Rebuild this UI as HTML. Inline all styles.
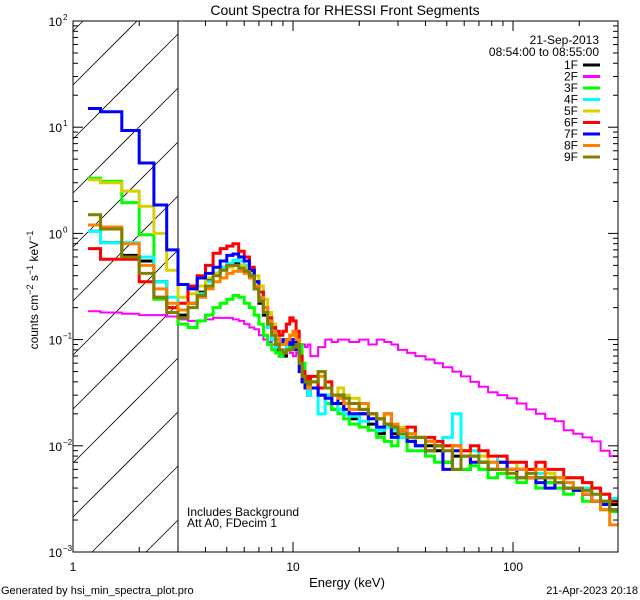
<!DOCTYPE html>
<html><head><meta charset="utf-8"><style>
html,body{margin:0;padding:0;background:#fff;width:640px;height:600px;overflow:hidden}
svg{display:block;font-family:"Liberation Sans",sans-serif}
</style></head><body>
<svg id="chart" width="640" height="600" viewBox="0 0 640 600">
<rect width="640" height="600" fill="#fff"/>
<text x="345" y="15" font-size="14" text-anchor="middle">Count Spectra for RHESSI Front Segments</text>
<defs><clipPath id="pclip"><rect x="73" y="21" width="545" height="531"/></clipPath></defs>
<g id="hatch"></g>
<line x1="178" y1="21" x2="178" y2="552" stroke="#000" stroke-width="1"/>
<g id="series" clip-path="url(#pclip)"></g>
<rect x="73" y="21" width="545" height="531" fill="none" stroke="#000" stroke-width="1"/>
<g id="axes"></g>
<text x="347" y="587" font-size="13" text-anchor="middle">Energy (keV)</text>
<text transform="translate(38,290) rotate(-90)" font-size="12" text-anchor="middle">counts cm<tspan dy="-5" font-size="9">−2</tspan><tspan dy="5"> s</tspan><tspan dy="-5" font-size="9">−1</tspan><tspan dy="5"> keV</tspan><tspan dy="-5" font-size="9">−1</tspan></text>
<text x="1" y="594" font-size="11">Generated by hsi_min_spectra_plot.pro</text>
<text x="638" y="594" font-size="11" text-anchor="end">21-Apr-2023 20:18</text>
<text x="187" y="516" font-size="12">Includes Background</text>
<text x="187" y="527" font-size="12">Att A0, FDecim 1</text>
<text x="599" y="44" font-size="12" text-anchor="end">21-Sep-2013</text>
<text x="599" y="56" font-size="12" text-anchor="end">08:54:00 to 08:55:00</text>
<g id="legend"></g>
</svg>
<script>
const edges=[1.17,1.333,1.667,2,2.333,2.667,3,3.333,3.667,4,4.333,4.667,5,5.333,5.667,6,6.333,6.667,7,7.333,7.667,8,8.333,8.667,9,9.333,9.667,10,10.333,10.667,11,11.333,11.667,12,13,14,15,16,17,18,20,22,24,26,28,30,33,36,40,44,48,53,58,64,70,77,85,94,104,115,127,140,155,170,188,207,228,250,275,300];
const seriesNames=["1F","2F","3F","4F","5F","6F","7F","8F","9F"];
const seriesColors=["#000000","#ff00ff","#00ff00","#00ffff","#d8d000","#ff0000","#0000ff","#ff8000","#808000"];
const v1F=[1.05,0.82,0.62,0.55,0.35,0.2,0.17,0.22,0.28,0.36,0.42,0.48,0.5,0.52,0.5,0.46,0.4,0.3,0.22,0.17,0.13,0.1,0.08,0.07,0.07,0.08,0.09,0.1,0.09,0.06,0.04,0.035,0.03,
0.04,0.03,0.03,0.022,0.025,0.02,0.018,0.02,0.016,0.013,0.016,0.013,0.012,0.011,0.01,0.01,0.009,0.007,0.008,0.006,0.008,0.007,0.006,0.007,0.006,0.006,0.005,0.005,0.0045,0.005,0.004,0.004,0.0035,0.003,0.003,0.0028];
const v2F=[0.185,0.18,0.175,0.17,0.17,0.165,0.155,0.15,0.15,0.155,0.16,0.16,0.16,0.155,0.15,0.14,0.13,0.125,0.11,0.1,0.095,0.09,0.085,0.08,0.075,0.08,0.075,0.07,0.075,0.08,0.09,0.085,0.09,
0.07,0.085,0.1,0.095,0.1,0.1,0.095,0.1,0.09,0.1,0.095,0.09,0.08,0.075,0.07,0.065,0.06,0.055,0.05,0.045,0.04,0.036,0.032,0.03,0.028,0.025,0.022,0.02,0.018,0.017,0.014,0.013,0.012,0.011,0.009,0.008];
const v3F=[3.3,3.1,1.95,0.97,0.24,0.2,0.14,0.13,0.15,0.17,0.2,0.22,0.24,0.26,0.25,0.22,0.2,0.17,0.14,0.11,0.09,0.08,0.075,0.07,0.075,0.08,0.09,0.09,0.1,0.09,0.06,0.045,0.04,
0.035,0.03,0.025,0.022,0.02,0.018,0.016,0.015,0.014,0.012,0.011,0.01,0.012,0.009,0.009,0.008,0.007,0.007,0.006,0.006,0.0065,0.006,0.005,0.0055,0.005,0.0045,0.005,0.004,0.0045,0.004,0.0035,0.0038,0.003,0.003,0.0025,0.0024];
const v4F=[1.05,0.82,0.82,0.6,0.35,0.25,0.16,0.2,0.27,0.35,0.42,0.48,0.52,0.56,0.55,0.5,0.42,0.32,0.24,0.18,0.13,0.1,0.085,0.08,0.08,0.09,0.09,0.1,0.09,0.06,0.04,0.035,0.03,
0.04,0.02,0.03,0.025,0.022,0.02,0.019,0.017,0.018,0.014,0.015,0.014,0.012,0.013,0.01,0.011,0.01,0.012,0.02,0.008,0.009,0.007,0.007,0.008,0.006,0.007,0.006,0.0055,0.005,0.005,0.0045,0.004,0.004,0.0035,0.003,0.0032];
const v5F=[3.2,3.0,2.5,1.8,1.0,0.45,0.25,0.27,0.32,0.38,0.42,0.45,0.48,0.5,0.5,0.47,0.44,0.4,0.32,0.24,0.18,0.14,0.11,0.09,0.09,0.1,0.11,0.12,0.1,0.07,0.05,0.045,0.04,
0.045,0.05,0.035,0.03,0.035,0.03,0.028,0.025,0.02,0.018,0.016,0.015,0.015,0.013,0.012,0.011,0.01,0.01,0.009,0.009,0.008,0.008,0.007,0.007,0.007,0.006,0.006,0.006,0.0055,0.005,0.005,0.005,0.0045,0.004,0.0035,0.003];
const v6F=[0.72,0.57,0.57,0.35,0.25,0.2,0.22,0.32,0.4,0.5,0.65,0.72,0.76,0.8,0.68,0.6,0.48,0.35,0.28,0.2,0.16,0.13,0.12,0.11,0.12,0.14,0.16,0.15,0.12,0.07,0.05,0.045,0.04,
0.045,0.035,0.04,0.03,0.03,0.025,0.025,0.022,0.02,0.018,0.02,0.015,0.014,0.015,0.012,0.012,0.011,0.01,0.01,0.009,0.01,0.009,0.008,0.008,0.007,0.007,0.006,0.007,0.006,0.006,0.005,0.005,0.0045,0.004,0.0035,0.003];
const v7F=[15,14,9.3,4.6,1.85,0.7,0.33,0.3,0.38,0.42,0.48,0.55,0.62,0.64,0.6,0.55,0.45,0.35,0.25,0.2,0.15,0.12,0.1,0.09,0.1,0.1,0.09,0.1,0.08,0.05,0.04,0.035,0.035,
0.035,0.03,0.028,0.025,0.03,0.022,0.02,0.02,0.018,0.015,0.016,0.012,0.014,0.011,0.01,0.009,0.01,0.006,0.009,0.008,0.007,0.007,0.006,0.007,0.006,0.005,0.005,0.0045,0.004,0.0045,0.004,0.0038,0.0035,0.003,0.0028,0.0025];
const v8F=[1.2,1.15,0.8,0.5,0.3,0.22,0.19,0.22,0.25,0.3,0.35,0.38,0.42,0.44,0.44,0.42,0.38,0.32,0.25,0.2,0.15,0.12,0.1,0.09,0.09,0.1,0.11,0.12,0.1,0.06,0.045,0.04,0.035,
0.04,0.045,0.035,0.03,0.028,0.025,0.022,0.025,0.02,0.018,0.02,0.016,0.014,0.013,0.012,0.011,0.01,0.009,0.01,0.008,0.008,0.007,0.007,0.006,0.006,0.006,0.005,0.006,0.005,0.005,0.0045,0.004,0.0035,0.003,0.0025,0.0018];
const v9F=[1.5,1.1,0.6,0.42,0.25,0.18,0.16,0.2,0.26,0.32,0.4,0.45,0.5,0.5,0.47,0.44,0.4,0.3,0.23,0.18,0.14,0.11,0.09,0.08,0.075,0.08,0.08,0.085,0.09,0.06,0.045,0.04,0.038,
0.04,0.05,0.035,0.03,0.03,0.028,0.025,0.022,0.02,0.018,0.016,0.015,0.013,0.012,0.012,0.009,0.01,0.009,0.006,0.008,0.008,0.007,0.006,0.006,0.0055,0.005,0.0055,0.005,0.005,0.0045,0.004,0.004,0.0038,0.0035,0.003,0.0025];
const xTickLabels=["1","10","100"];
const yExps=["2","1","0","−1","−2","−3"];

const NS="http://www.w3.org/2000/svg";
const X0=73,X1=618,Y0=21,Y1=552;
const xLogMin=0,xLogMax=Math.log10(300),yLogMin=-3,yLogMax=2;
function xs(e){return X0+(Math.log10(e)-xLogMin)/(xLogMax-xLogMin)*(X1-X0);}
function ys(v){return Y1-(Math.log10(v)-yLogMin)/(yLogMax-yLogMin)*(Y1-Y0);}
function mk(tag,attrs,parent){const el=document.createElementNS(NS,tag);for(const k in attrs)el.setAttribute(k,attrs[k]);parent.appendChild(el);return el;}

// hatch lines computed to stay inside the 1-3 keV box (45 deg, x+y = k)
const hatch=document.getElementById('hatch');
const HX1=178;
for(let k=X0+Y0+10;k<HX1+Y1;k+=54){
  // line points satisfy x + y = k
  let xa=Math.max(X0,k-Y1), ya=k-xa;
  let xb=Math.min(HX1,k-Y0), yb=k-xb;
  if(xb<=xa)continue;
  const ln=mk('line',{x1:xa,y1:ya,x2:xb,y2:yb,stroke:'#000','stroke-width':0.8},hatch);
  
  
}

const allVals=[v1F,v2F,v3F,v4F,v5F,v6F,v7F,v8F,v9F];
const sg=document.getElementById('series');
allVals.forEach((vals,si)=>{
  let d='';
  for(let i=0;i<vals.length;i++){
    const xa=xs(edges[i]),xb=Math.min(X1,xs(edges[i+1])),y=ys(vals[i]);
    d+=(i===0?'M':'L')+xa.toFixed(1)+','+y.toFixed(1)+'L'+xb.toFixed(1)+','+y.toFixed(1);
  }
  const p=mk('path',{d:d,fill:'none',stroke:seriesColors[si],'stroke-width':si===1?2:3,'stroke-linejoin':'miter'},sg);
  
  
});

const ax=document.getElementById('axes');
for(let dec=0;dec<3;dec++){
  for(let m=1;m<10;m++){
    const e=Math.pow(10,dec)*m; if(e>300)break;
    const x=xs(e),L=m===1?10:5;
    mk('line',{x1:x,y1:Y1,x2:x,y2:Y1-L,stroke:'#000'},ax);
    mk('line',{x1:x,y1:Y0,x2:x,y2:Y0+L,stroke:'#000'},ax);
  }
  const t=mk('text',{x:xs(Math.pow(10,dec)),y:571,'font-size':12,'text-anchor':'middle'},ax);
  t.textContent=xTickLabels[dec];
  
  
}
for(let dec=-3;dec<=2;dec++){
  for(let m=1;m<10;m++){
    if(dec===2&&m>1)break;
    const v=Math.pow(10,dec)*m,y=ys(v),L=m===1?10:5;
    mk('line',{x1:X0,y1:y,x2:X0+L,y2:y,stroke:'#000'},ax);
    mk('line',{x1:X1,y1:y,x2:X1-L,y2:y,stroke:'#000'},ax);
  }
  const t=mk('text',{x:62,y:ys(Math.pow(10,dec))+5,'font-size':12,'text-anchor':'end'},ax);
  t.textContent='10';
  
  
  const s=mk('text',{x:63,y:ys(Math.pow(10,dec))-1,'font-size':8},ax);
  s.textContent=yExps[2-dec];
  
  
}

const lg=document.getElementById('legend');
seriesNames.forEach((n,i)=>{
  const y=65+i*11.5;
  const t=mk('text',{x:578,y:y+4,'font-size':12,'text-anchor':'end'},lg);
  t.textContent=n;
  
  
  const l=mk('line',{x1:583,y1:y,x2:600,y2:y,stroke:seriesColors[i],'stroke-width':3},lg);
  
  
});
</script>
</body></html>
